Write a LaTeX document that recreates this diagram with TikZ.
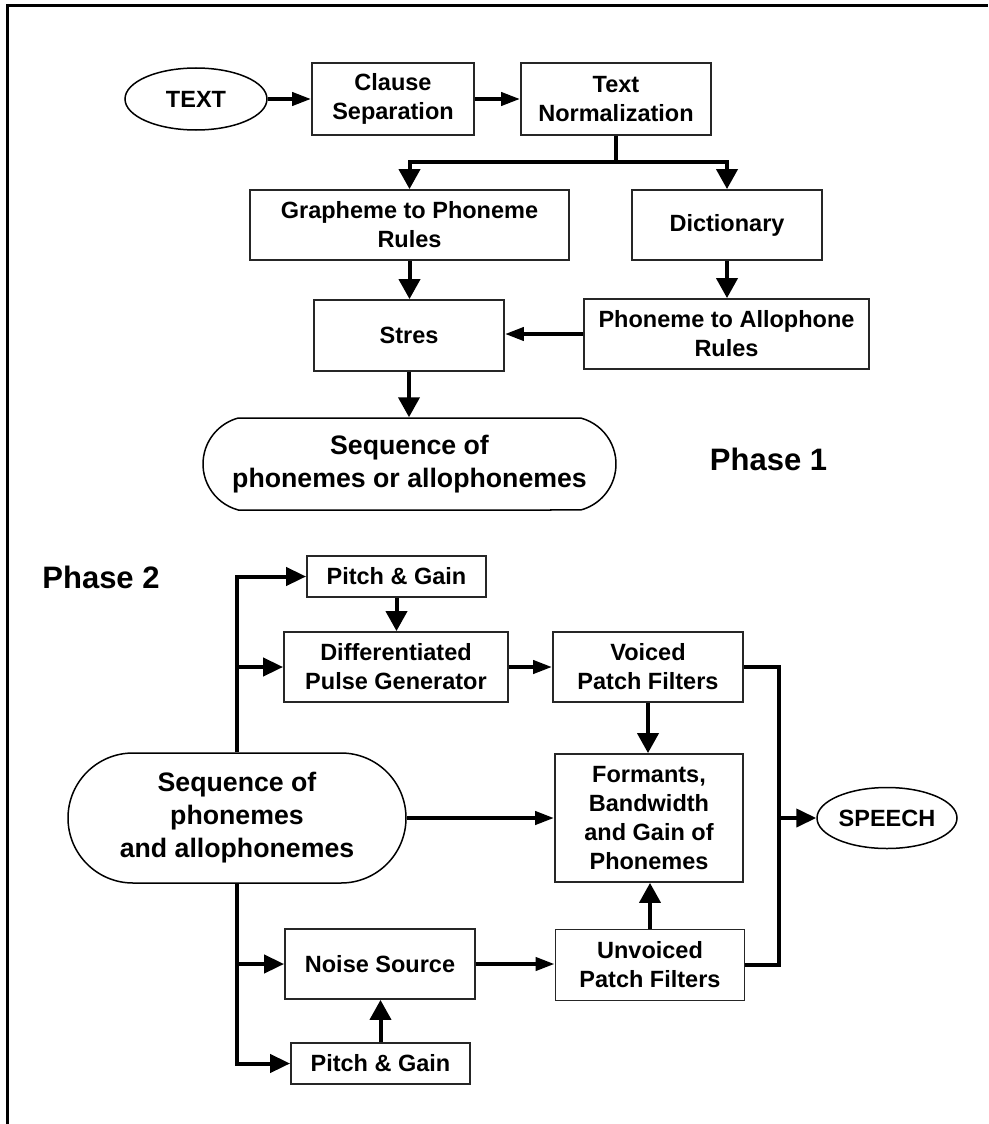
\documentclass[tikz,border=0pt]{standalone}
\usepackage{fontspec}
\setmainfont{Liberation Sans}
\usetikzlibrary{arrows.meta,shapes.geometric,shapes.misc}
\begin{document}
\begin{tikzpicture}[x=1pt,y=-1pt,
  lbl/.style={font=\bfseries\fontsize{23.5}{29}\selectfont,align=center,inner sep=0pt},
  box/.style={lbl,draw=black!85,line width=1.8pt,rectangle},
  oval/.style={lbl,draw=black,line width=1.5pt,ellipse},
  pill/.style={draw=black,line width=1.5pt,rounded rectangle,inner sep=0pt,align=center,font=\bfseries\fontsize{26.7}{33}\selectfont},
  phase/.style={font=\bfseries\fontsize{31}{36}\selectfont,inner sep=0pt},
  conn/.style={line width=4pt},
  varr/.style={conn,-{Triangle[length=20pt,width=21pt]}},
  harr/.style={conn,-{Triangle[length=19pt,width=13pt]}},
  tarr/.style={conn,-{Triangle[length=20pt,width=18pt]}}]
\useasboundingbox (0,0) rectangle (988,1124);
\draw[line width=3pt] (7,1124) -- (7,5.5) -- (988,5.5);

% Phase 1
\node[oval,minimum width=142pt,minimum height=62pt] (text) at (196,99) {TEXT};
\node[box,minimum width=162pt,minimum height=72pt] (clause) at (393,99) {Clause\\Separation};
\node[box,minimum width=190pt,minimum height=72pt] (norm) at (616,99) {Text\\Normalization};
\node[box,minimum width=319pt,minimum height=70pt] (graph) at (409.5,225) {Grapheme to Phoneme\\Rules};
\node[box,minimum width=190pt,minimum height=70pt] (dict) at (727,225) {Dictionary};
\node[box,minimum width=190pt,minimum height=71pt] (stres) at (409,335.5) {Stres};
\node[box,minimum width=285pt,minimum height=70pt] (pa) at (726.5,334) {Phoneme to Allophone\\Rules};
\node[pill,minimum width=413pt,minimum height=92pt,rounded rectangle arc length=150] (seq1) at (409.5,464) {Sequence of\\phonemes or allophonemes};
\node[phase] (ph1) at (768.5,459) {Phase 1};

\coordinate (br) at (616,162);
\draw[harr] (text) -- (clause);
\draw[harr] (clause) -- (norm);
\draw[conn] (norm.south) -- (br);
\draw[varr] (br) -| (graph.north);
\draw[varr] (br) -| (dict.north);
\draw[varr] (graph.south) -- (graph.south |- stres.north);
\draw[varr] (dict.south) -- (dict.south |- pa.north);
\draw[harr] (pa.west) -- (pa.west -| stres.east);
\draw[varr] (stres.south) -- (stres.south |- seq1.north);

% Phase 2
\node[phase] (ph2) at (101,577.5) {Phase 2};
\node[box,minimum width=179pt,minimum height=41pt] (pg1) at (396.5,576.5) {Pitch \& Gain};
\node[box,minimum width=224pt,minimum height=70pt] (dpg) at (396,667) {Differentiated\\Pulse Generator};
\node[box,minimum width=190pt,minimum height=70pt] (voiced) at (648,667) {Voiced\\Patch Filters};
\node[box,minimum width=188pt,minimum height=128pt] (form) at (649,818) {Formants,\\Bandwidth\\and Gain of\\Phonemes};
\node[pill,minimum width=338pt,minimum height=130pt] (seq2) at (237,818) {Sequence of\\phonemes\\and allophonemes};
\node[oval,minimum width=140pt,minimum height=61pt] (speech) at (887,818) {SPEECH};
\node[box,minimum width=190pt,minimum height=70pt] (noise) at (380,964) {Noise Source};
\node[box,minimum width=189pt,minimum height=71pt] (unv) at (650,965) {Unvoiced\\Patch Filters};
\node[box,minimum width=179pt,minimum height=41pt] (pg2) at (380.5,1063.5) {Pitch \& Gain};

\coordinate (rj) at (779,818);
\draw[tarr] (seq2.north) |- (pg1.west);
\draw[tarr] (seq2.north |- dpg.west) -- (dpg.west);
\draw[tarr] (seq2.south) |- (pg2.west);
\draw[tarr] (seq2.south |- noise.west) -- (noise.west);
\draw[varr] (pg1.south) -- (pg1.south |- dpg.north);
\draw[varr] (pg2.north) -- (pg2.north |- noise.south);
\draw[harr] (dpg.east) -- (voiced.west);
\draw[varr] (voiced.south) -- (voiced.south |- form.north);
\draw[varr] (unv.north) -- (unv.north |- form.south);
\draw[harr] (seq2.east) -- (form.west);
\draw[harr] (noise.east) -- (noise.east -| unv.west);
\draw[conn] (voiced.east) -| (rj) |- (unv.east);
\draw[tarr] (rj) -- (speech.west);
\end{tikzpicture}
\end{document}
